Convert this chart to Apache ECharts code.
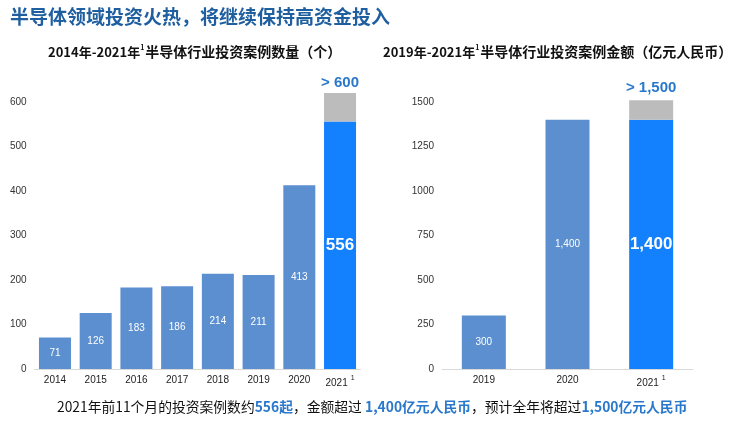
<!DOCTYPE html>
<html>
<head>
<meta charset="utf-8">
<script src="https://cdn.jsdelivr.net/npm/echarts@6/dist/echarts.min.js"></script>
<style>
html,body{margin:0;padding:0;background:#fff;}
#main{width:740px;height:426px;}
</style>
</head>
<body>
<div id="main"></div>
<script>
// 数据
var countYears = ['2014','2015','2016','2017','2018','2019','2020','2021'];
var countValues = [71,126,183,186,214,211,413,556];
var countExtra = ['-','-','-','-','-','-','-',64]; // 预计全年补充部分(约620)
var amountYears = ['2019','2020','2021'];
var amountValues = [300,1400,1400];
var amountExtra = ['-','-',110]; // 预计全年补充部分(约1510)

var barBlue = '#5b8fcf';
var hotBlue = '#1380fe';
var greyPart = '#bcbcbc';
var textBlue = '#2a78cc';
var num = '"Liberation Sans", Arial, sans-serif';

var myChart = echarts.init(document.getElementById('main'));

function fmtNum(v){
	return String(v).replace(/\B(?=(\d{3})+(?!\d))/g, ',');
}

// 最后一个柱子高亮
function buildMain(values, bigSize){
	return values.map(function(v, i){
		if(i == values.length-1){
			return {value: v, itemStyle:{color: hotBlue},
				label:{fontSize: bigSize, fontWeight:'bold'}};
		}
		return v;
	});
}

var xLabel = {
	fontSize: 10, color: '#222', fontFamily: num, margin: 6, interval: 0,
	formatter: function(v){ return v=='2021' ? v+'{sup|1}' : v; },
	rich: {sup: {fontSize: 7, padding: [0,0,10,3], color:'#222', fontFamily: num}}
};

// 小标题：前缀 + 上标 + 中文
function subTitle(prefix, body){
	return {
		text: '{p|'+prefix+'}{s|1}{a|'+body+'}',
		rich: {
			p: {font:'bold 13px "Noto Sans CJK SC"', fill:'#111'},
			s: {font:'bold 7px "Noto Sans CJK SC"', fill:'#111', padding:[0,1,9,0]},
			a: {font:'bold 14px "Noto Sans CJK SC"', fill:'#111'}
		}
	};
}

var option = {
	animation: false,
	backgroundColor: '#fff',
	graphic: [
		{type:'text', left: 10, top: 7, style:{
			text:'半导体领域投资火热，将继续保持高资金投入',
			font:'bold 19px "Noto Sans CJK SC"', fill:'#1f5f9f'}},
		{type:'text', left: 48, top: 44, style: subTitle('2014年-2021年','半导体行业投资案例数量（个）')},
		{type:'text', left: 383, top: 44, style: subTitle('2019年-2021年','半导体行业投资案例金额（亿元人民币）')},
		{type:'text', left: 57, top: 400, style:{
			text:'{a|2021年前11个月的投资案例数约}{b|556起}{a|，金额超过 }{b|1,400亿元人民币}{a|，预计全年将超过}{b|1,500亿元人民币}',
			rich:{
				a:{font:'13.8px "Noto Sans CJK SC"', fill:'#111'},
				b:{font:'bold 13.8px "Noto Sans CJK SC"', fill: textBlue}
			}}}
	],
	grid: [
		{left: 34.6, top: 93.1, width: 325.8, height: 275.9},
		{left: 442, top: 100.2, width: 251, height: 268.8}
	],
	xAxis: [
		{type:'category', gridIndex:0, data: countYears,
		 axisLine:{lineStyle:{color:'#d9d9d9'}}, axisTick:{show:false}, axisLabel: xLabel},
		{type:'category', gridIndex:1, data: amountYears,
		 axisLine:{lineStyle:{color:'#d9d9d9'}}, axisTick:{show:false}, axisLabel: xLabel}
	],
	yAxis: [
		{type:'value', gridIndex:0, min:0, max:620, interval:100,
		 splitLine:{show:false}, axisLine:{show:false}, axisTick:{show:false},
		 axisLabel:{fontSize:10, color:'#333', fontFamily:num, margin:8,
			formatter:function(v){ return v%100==0 ? v : ''; }}},
		{type:'value', gridIndex:1, min:0, max:1510, interval:250,
		 splitLine:{show:false}, axisLine:{show:false}, axisTick:{show:false},
		 axisLabel:{fontSize:10, color:'#333', fontFamily:num, margin:8,
			formatter:function(v){ return v%250==0 ? v : ''; }}}
	],
	series: [
		{type:'bar', xAxisIndex:0, yAxisIndex:0, stack:'c', barWidth:32,
		 data: buildMain(countValues, 17),
		 itemStyle:{color: barBlue},
		 label:{show:true, position:'inside', color:'#fff', fontSize:10, fontFamily:num}},
		{type:'bar', xAxisIndex:0, yAxisIndex:0, stack:'c', barWidth:32,
		 data: countExtra,
		 itemStyle:{color: greyPart},
		 label:{show:true, position:'top', distance:3, color:textBlue, fontSize:15,
			fontWeight:'bold', fontFamily:num, formatter:'> 600'}},
		{type:'bar', xAxisIndex:1, yAxisIndex:1, stack:'m', barWidth:44,
		 data: buildMain(amountValues, 17),
		 itemStyle:{color: barBlue},
		 label:{show:true, position:'inside', color:'#fff', fontSize:10, fontFamily:num,
			formatter:function(p){ return fmtNum(p.value); }}},
		{type:'bar', xAxisIndex:1, yAxisIndex:1, stack:'m', barWidth:44,
		 data: amountExtra,
		 itemStyle:{color: greyPart},
		 label:{show:true, position:'top', distance:5, color:textBlue, fontSize:15,
			fontWeight:'bold', fontFamily:num, formatter:'> 1,500'}}
	]
};
myChart.setOption(option);
</script>
</body>
</html>
